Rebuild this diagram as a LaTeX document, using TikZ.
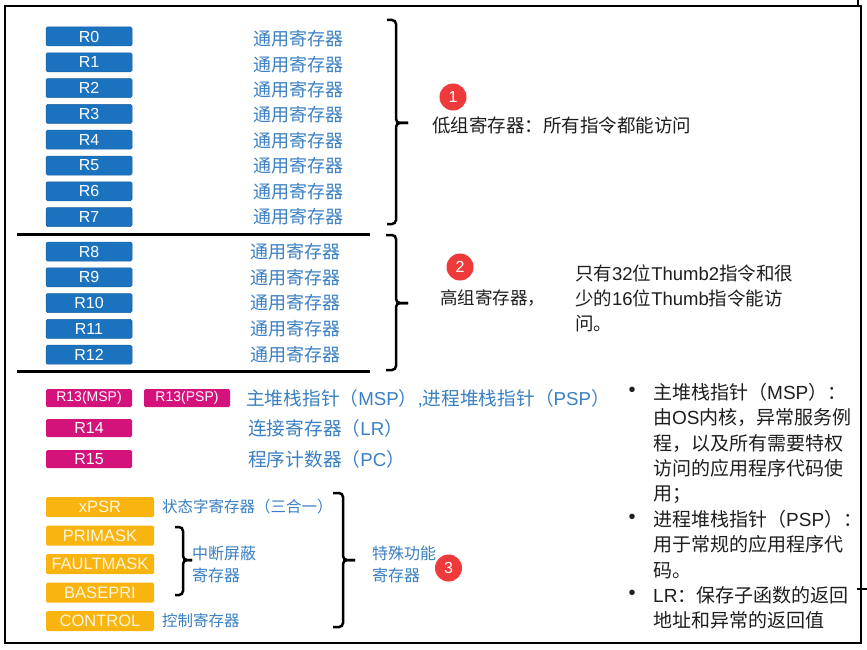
\documentclass[tikz,border=0pt]{standalone}
\usepackage{fontspec}
\setmainfont{Liberation Sans}
\newfontfamily\cjk{Noto Sans CJK SC}
\newfontfamily\latf{Liberation Sans}
\newcommand\lat[1]{{\latf #1}}
\definecolor{regblue}{HTML}{1B73C0}
\definecolor{txtblue}{HTML}{3A80C3}
\definecolor{regmag}{HTML}{D4127C}
\definecolor{regyel}{HTML}{F9B40F}
\definecolor{yeltext}{HTML}{FFF6DC}
\definecolor{badgered}{HTML}{EE3A3A}
\definecolor{darktext}{HTML}{1E1E1E}
\newcommand\curlybr[6]{%
  \draw[brc, rounded corners=4pt] (#1,#4) -- (#2,#4) -- (#2,#6) -- (#3,#6);
  \draw[brc, rounded corners=4pt] (#1,#5) -- (#2,#5) -- (#2,#6) -- (#3,#6);}
\begin{document}
\begin{tikzpicture}[x=1pt,y=-1pt,
  reg/.style={rectangle, rounded corners=1.5pt, minimum width=86pt, minimum height=19pt, inner sep=0pt, text=white, font=\fontsize{16}{16}\selectfont},
  breg/.style={reg, fill=regblue, draw=regblue!85!black, line width=0.5pt},
  mreg/.style={reg, fill=regmag, minimum height=18pt, font=\fontsize{14}{14}\selectfont},
  yreg/.style={reg, fill=regyel, text=yeltext, minimum width=108pt, minimum height=20pt, font=\fontsize{16.5}{16.5}\selectfont},
  lbl/.style={anchor=west, inner sep=0pt, text=txtblue, font=\cjk\fontsize{18}{18}\selectfont, text height=15.8pt, text depth=2.2pt},
  wlbl/.style={lbl, font=\cjk\fontsize{18.7}{18.7}\selectfont, text height=16.4pt, text depth=2.3pt},
  slbl/.style={lbl, font=\cjk\fontsize{15.5}{15.5}\selectfont, text height=13.6pt, text depth=1.9pt},
  mlbl/.style={anchor=west, inner sep=0pt, text=txtblue, align=left, font=\cjk\fontsize{16}{22}\selectfont},
  note/.style={anchor=west, inner sep=0pt, text=darktext, font=\cjk\fontsize{18.5}{18.5}\selectfont, text height=16.3pt, text depth=2.2pt},
  bnote/.style={anchor=west, inner sep=0pt, text=darktext, font=\cjk\fontsize{19}{19}\selectfont, text height=16.7pt, text depth=2.3pt},
  badge/.style={circle, fill=badgered, text=white, minimum size=27pt, inner sep=0pt, font=\fontsize{16}{16}\selectfont},
  sep/.style={line width=3pt},
  brc/.style={line width=2.5pt},
  frame/.style={line width=2.5pt}]
\useasboundingbox (0,0) rectangle (867,650);
\fill[white] (0,0) rectangle (867,650);
% frame
\draw[frame] (5,6) rectangle (861,643);
\draw[line width=1.5pt] (858,0) -- (858,6);
\draw[line width=1.5pt] (857,589) -- (867,589);
% low registers
\foreach \i/\b/\t in {0/36.5/39, 1/62.3/64.4, 2/88.1/89.8, 3/113.9/115.2, 4/139.7/140.6, 5/165.5/166, 6/191.3/191.4, 7/217.1/216.8}{
  \node[breg] (r\i) at (89,\b) {R\i};
  \node[lbl] (g\i) at (253,\t) {通用寄存器};
}
\coordinate (s1a) at (17,234); \coordinate (s1b) at (370,234);
\draw[sep] (s1a) -- (s1b);
% high registers
\foreach \i/\b in {8/251.5, 9/277.3, 10/303.1, 11/328.9, 12/354.7}{
  \node[breg] (r\i) at (89,\b) {R\i};
  \node[lbl] (g\i) at (250,\b) {通用寄存器};
}
\coordinate (s2a) at (17,371); \coordinate (s2b) at (370,371);
\draw[sep] (s2a) -- (s2b);
% braces top
\curlybr{387}{396}{408}{20}{224}{123}
\curlybr{386}{396}{408}{235}{370}{303}
\node[note] (low) at (432,125) {低组寄存器：所有指令都能访问};
\node[badge] (c1) at (453,97) {1};
\node[note, font=\cjk\fontsize{17.5}{17.5}\selectfont] (high) at (440,297) {高组寄存器，};
\node[badge] (c2) at (460,267) {2};
\node[anchor=west, inner sep=0pt, text=darktext, align=left, font=\cjk\fontsize{18.5}{25}\selectfont] (thumb) at (575,298) {只有\lat{32}位\lat{Thumb2}指令和很\\少的\lat{16}位\lat{Thumb}指令能访\\问。};
% special registers
\node[mreg] (r13m) at (89,398) {R13(MSP)};
\node[mreg] (r13p) at (187,398) {R13(PSP)};
\node[wlbl] (t13) at (246,398) {主堆栈指针（\lat{MSP}）\lat{,}进程堆栈指针（\lat{PSP}）};
\node[mreg, font=\fontsize{16}{16}\selectfont] (r14) at (89,428) {R14};
\node[wlbl] (t14) at (248,428) {连接寄存器（\lat{LR}）};
\node[mreg, font=\fontsize{16}{16}\selectfont] (r15) at (89,459) {R15};
\node[wlbl] (t15) at (248,459) {程序计数器（\lat{PC}）};
% system registers
\node[yreg] (xpsr) at (100,507) {xPSR};
\node[yreg] (pri) at (100,535.5) {PRIMASK};
\node[yreg] (fault) at (100,564) {FAULTMASK};
\node[yreg] (base) at (100,592.5) {BASEPRI};
\node[yreg] (ctrl) at (100,621) {CONTROL};
\node[slbl] (txpsr) at (162,507) {状态字寄存器（三合一）};
\node[slbl] (tctrl) at (162,621) {控制寄存器};
\curlybr{175}{183}{192}{527}{595}{560}
\node[mlbl] (tmask) at (192,564) {中断屏蔽\\寄存器};
\curlybr{333}{343}{355}{493}{627}{560}
\node[mlbl] (tspec) at (372,564) {特殊功能\\寄存器};
\node[badge] (c3) at (448.5,568) {3};
% bullets
\foreach \n/\y/\s in {d1/392/主堆栈指针（\lat{MSP}）：, d2/417.4/由\lat{OS}内核，异常服务例, d3/442.8/程，以及所有需要特权, d4/468.2/访问的应用程序代码使, d5/493.6/用；, d6/519/进程堆栈指针（\lat{PSP}）：, d7/544.4/用于常规的应用程序代, d8/569.8/码。, d9/595.2/\lat{LR}：保存子函数的返回, d10/620.6/地址和异常的返回值}{
  \node[bnote] (\n) at (653,\y) {\s};
}
\foreach \n/\y in {k1/392, k2/519, k3/595.2}{
  \node[inner sep=0pt, text=darktext, font=\fontsize{20}{20}\selectfont] (\n) at (632,\y) {\textbullet};
}
\end{tikzpicture}
\end{document}
